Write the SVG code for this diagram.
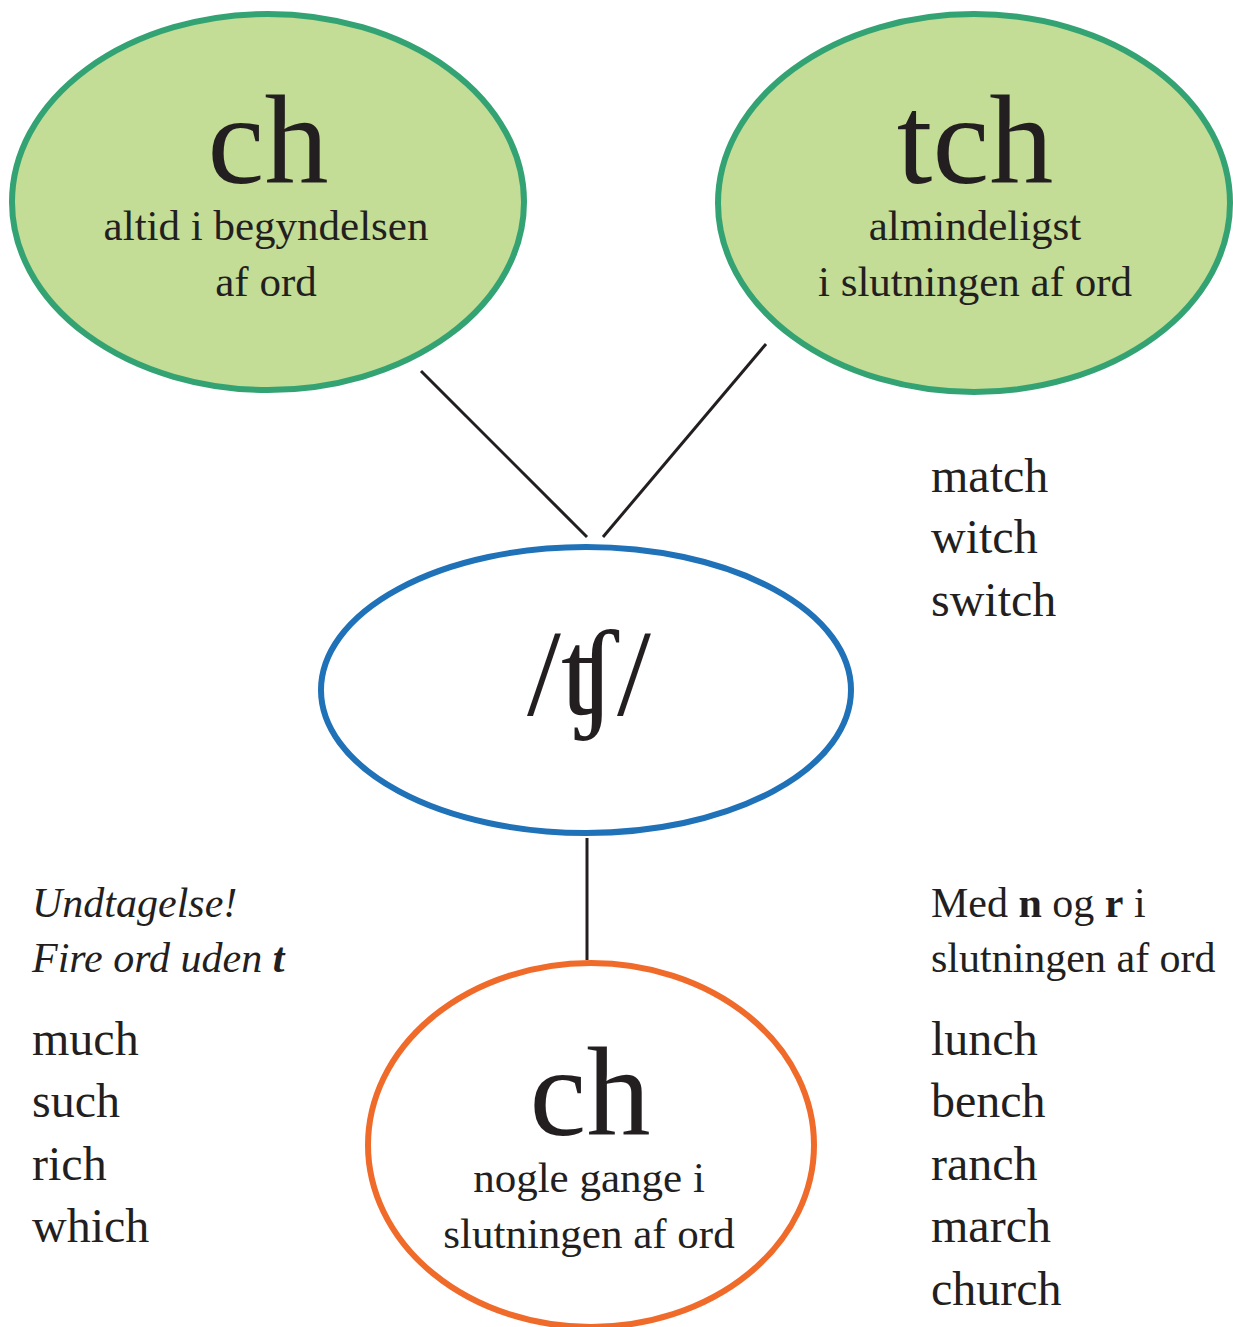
<svg xmlns="http://www.w3.org/2000/svg" width="1233" height="1327" viewBox="0 0 1233 1327">
<style>
.t{font-family:"Liberation Serif","DejaVu Serif",serif;fill:#231f20}
.big{font-size:128px;text-anchor:middle}
.sub{font-size:43px;text-anchor:middle}
.w{font-size:48px}
.n{font-size:42px}
.green{fill:#c3dc96;stroke:#34a374;stroke-width:6}
.conn{stroke:#231f20;stroke-width:3;fill:none}
</style>
<rect width="1233" height="1327" fill="#fff"/>
<g id="connectors">
<line class="conn" x1="421" y1="371" x2="587" y2="537"/>
<line class="conn" x1="766" y1="344" x2="603" y2="537"/>
<line class="conn" x1="587" y1="838" x2="587" y2="960"/>
</g>
<g id="node-ch-top">
<ellipse class="green" cx="268" cy="202" rx="256" ry="188"/>
<text class="t big" x="268" y="183">ch</text>
<text class="t sub" x="266" y="240">altid i begyndelsen</text>
<text class="t sub" x="266" y="296">af ord</text>
</g>
<g id="node-tch">
<ellipse class="green" cx="974" cy="203" rx="256" ry="189"/>
<text class="t big" x="975" y="183">tch</text>
<text class="t sub" x="975" y="240">almindeligst</text>
<text class="t sub" x="975" y="296">i slutningen af ord</text>
</g>
<g id="node-ipa">
<ellipse cx="586" cy="690" rx="265" ry="143" fill="#fff" stroke="#1f71b8" stroke-width="6"/>
<text class="t" x="589" y="715" font-size="122" text-anchor="middle">/ʧ/</text>
</g>
<g id="node-ch-bottom">
<ellipse cx="591" cy="1145" rx="223" ry="182" fill="#fff" stroke="#f06b2a" stroke-width="6"/>
<text class="t big" x="590" y="1135">ch</text>
<text class="t sub" x="589" y="1192">nogle gange i</text>
<text class="t sub" x="589" y="1248">slutningen af ord</text>
</g>
<g id="words-tch">
<text class="t w" x="931" y="492">match</text>
<text class="t w" x="931" y="553">witch</text>
<text class="t w" x="931" y="616">switch</text>
</g>
<g id="exception">
<text class="t n" x="32" y="917" font-style="italic">Undtagelse!</text>
<text class="t n" x="32" y="972" font-style="italic">Fire ord uden <tspan font-weight="bold">t</tspan></text>
<text class="t w" x="32" y="1055">much</text>
<text class="t w" x="32" y="1117">such</text>
<text class="t w" x="32" y="1180">rich</text>
<text class="t w" x="32" y="1242">which</text>
</g>
<g id="nr-words">
<text class="t n" x="931" y="917">Med <tspan font-weight="bold">n</tspan> og <tspan font-weight="bold">r</tspan> i</text>
<text class="t n" x="931" y="972">slutningen af ord</text>
<text class="t w" x="931" y="1055">lunch</text>
<text class="t w" x="931" y="1117">bench</text>
<text class="t w" x="931" y="1180">ranch</text>
<text class="t w" x="931" y="1242">march</text>
<text class="t w" x="931" y="1305">church</text>
</g>
</svg>
